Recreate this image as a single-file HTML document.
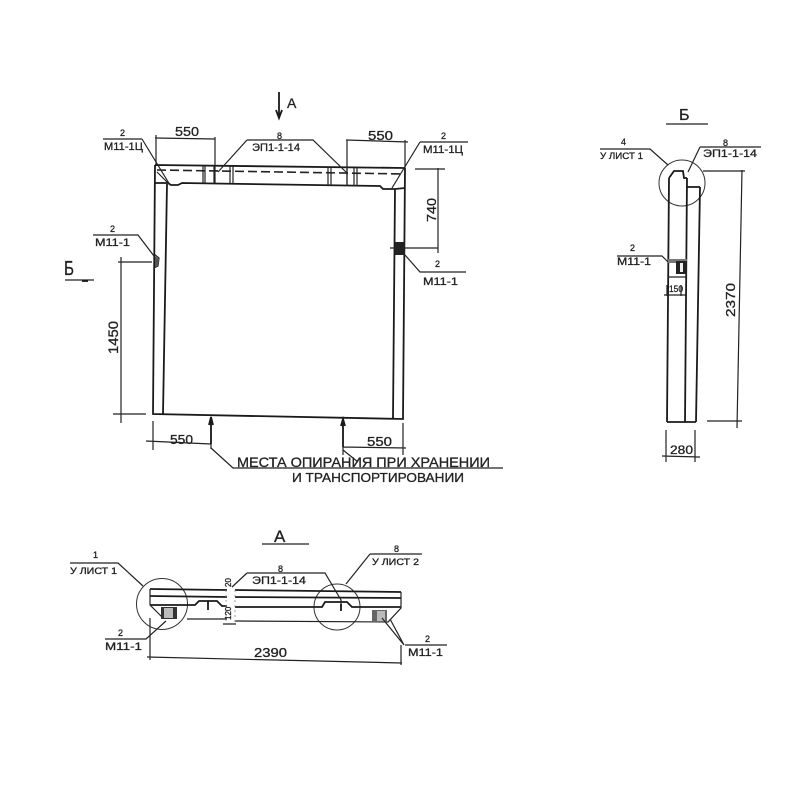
<!DOCTYPE html>
<html><head><meta charset="utf-8"><style>
html,body{margin:0;padding:0;background:#fff}
svg{display:block}
text{font-family:"Liberation Sans","DejaVu Sans",sans-serif;fill:#222;stroke:#222;stroke-width:.3}
.l{stroke:#222;stroke-width:1.2;fill:none}
.t{stroke:#1a1a1a;stroke-width:1.8;fill:none}
.h{stroke:#333;stroke-width:1;fill:none}
.d{stroke:#888;stroke-width:.8;fill:none;stroke-dasharray:2 3}
</style></head><body>
<svg width="800" height="800" viewBox="0 0 800 800" xmlns="http://www.w3.org/2000/svg">
<!-- Main elevation -->
<path class="t" d="M155 165L405 168M155 183H168L171 185L178 185L182 183L380 186L383 189L395 189L405 188M155 165L153 414L403 419L405 168M167 184L163 414M395 189L393 418"/>
<path d="M157 170L405 174" stroke="#222" stroke-width="1.6" stroke-dasharray="9 4" fill="none"/>
<path class="l" d="M203 165V183M205 165V183M214 166V183M230 166V184M233 166V184M328 167V186M331 167V186M347 168V186M354 168V186M357 168V186M157 172L170 185"/>
<path class="l" d="M156 135V165M215 137V183M347 140V186M405 140V169M155 138L215 139M346 140L408 142"/>
<path class="l" d="M142 139H103M142 139L170 185M247 140L218 172M247 140H313L347 173M420 142H468M420 142L392 188"/>
<path class="t" d="M279 92V116M276 110L279 118L282 110"/>
<path class="l" d="M438 168V253M415 169H445M390 248L438 248M93 235H138L154 256M121 257V423M118 262H152M113 414H146M153 421V450M211 417V449M146 441L211 444M343 421V455M403 423V455M343 447L406 448"/>
<path class="l" d="M154 254L159 258L158 266L154 268"/>
<path d="M155 256L159 259L158 265L155 267Z" fill="#555"/>
<rect x="395" y="242" width="10" height="13" fill="#222"/>
<path class="l" d="M405 255L420 272H466"/>
<path class="t" d="M211 417V444M343 419V447M209 425L211 417L213 425M341 426L343 419L345 426"/>
<path class="l" d="M211 448L233 468H503M343 450L358 462"/>
<path class="l" d="M65 280H94"/><path class="t" d="M82 281H88"/>
<!-- Section B -->
<path class="l" d="M666 124H708"/>
<circle cx="682" cy="183" r="23" class="h"/>
<path class="t" d="M669 178L667 422M687 178L685 422M700 187L696 422M667 422H696M669 178L674 171H683L684 178H687M687 187H700"/>
<path class="l" d="M600 149H650L668 165M700 147H761M700 147L688 172M703 171H745M742 170L737 428M707 421H742M617 256H662L668 262M666 430V462M695 430V462M662 456L700 457M667 285V296M681 285V296M664 295H686"/>
<rect x="668" y="259" width="19" height="4" fill="#777"/>
<rect x="676" y="261" width="11" height="13" fill="#222"/><rect x="680" y="263" width="3" height="9" fill="#eee"/>
<path class="l" d="M668 277H687"/>
<!-- Section A -->
<path class="l" d="M262 544H309"/>
<circle cx="162" cy="604" r="25.500" class="h"/>
<circle cx="337" cy="607" r="23" class="h"/>
<path class="t" d="M150 589L227 590M235 590L401 592M150 596L227 597M235 597L401 598M150 605L195 605L199 601H217L222 606H227M235 607H322L325 602H347L352 607H401"/>
<path class="l" d="M150 589V605L163 618M187 619H227M235 621L388 622L401 608V592M223 624H236"/>
<path class="d" d="M226 590V621M235 590V622"/>
<rect x="161" y="607" width="16" height="12" fill="#333"/><rect x="164" y="608" width="9" height="10" fill="#bbb"/>
<rect x="372" y="610" width="15" height="12" fill="#666"/><rect x="377" y="611" width="8" height="10" fill="#bbb"/>
<path class="l" d="M70 563H118L143 586M247 573H325L341 600V610M247 573L232 587M370 554H422M370 554L346 584M105 639H146L166 621M382 618L404 645L390 619M405 645H447M150 618V660M401 645V665M147 657L402 663"/>
<path class="t" d="M208 601V610M341 604V611"/>
<!-- Labels -->
<g font-size="13">
<text x="175" y="136" textLength="24" lengthAdjust="spacingAndGlyphs">550</text>
<text x="368" y="140" textLength="25" lengthAdjust="spacingAndGlyphs">550</text>
<text x="170" y="444" textLength="23" lengthAdjust="spacingAndGlyphs">550</text>
<text x="367" y="446" textLength="25" lengthAdjust="spacingAndGlyphs">550</text>
<text x="287" y="108" font-size="14">А</text>
<text x="679" y="120" font-size="16">Б</text>
<text x="64" y="275" font-size="20" textLength="10" lengthAdjust="spacingAndGlyphs">Б</text>
<text x="274" y="542" font-size="17">А</text>
<text x="670" y="454" font-size="12" textLength="23" lengthAdjust="spacingAndGlyphs">280</text>
<text x="254" y="657" font-size="13" textLength="33" lengthAdjust="spacingAndGlyphs">2390</text>
<text transform="translate(118,354) rotate(-90)" font-size="14" textLength="33" lengthAdjust="spacingAndGlyphs">1450</text>
<text transform="translate(436,222) rotate(-90)" font-size="13" textLength="24" lengthAdjust="spacingAndGlyphs">740</text>
<text transform="translate(735,317) rotate(-90)" font-size="13" textLength="34" lengthAdjust="spacingAndGlyphs">2370</text>
</g>
<g font-size="9">
<text x="120" y="136">2</text><text x="104" y="150" font-size="11" textLength="39" lengthAdjust="spacingAndGlyphs">М11-1Ц</text>
<text x="277" y="139">8</text><text x="252" y="151" font-size="11" textLength="48" lengthAdjust="spacingAndGlyphs">ЭП1-1-14</text>
<text x="441" y="139">2</text><text x="423" y="153" font-size="11" textLength="40" lengthAdjust="spacingAndGlyphs">М11-1Ц</text>
<text x="110" y="232">2</text><text x="95" y="246" font-size="11" textLength="35" lengthAdjust="spacingAndGlyphs">М11-1</text>
<text x="435" y="267">2</text><text x="423" y="285" font-size="11" textLength="35" lengthAdjust="spacingAndGlyphs">М11-1</text>
<text x="621" y="145">4</text><text x="600" y="159" font-size="9" textLength="43" lengthAdjust="spacingAndGlyphs">У ЛИСТ 1</text>
<text x="723" y="146">8</text><text x="703" y="157" font-size="11" textLength="54" lengthAdjust="spacingAndGlyphs">ЭП1-1-14</text>
<text x="630" y="251">2</text><text x="617" y="265" font-size="11" textLength="34" lengthAdjust="spacingAndGlyphs">М11-1</text>
<text x="669" y="292" textLength="14" lengthAdjust="spacingAndGlyphs">150</text>
<text x="93" y="558">1</text><text x="70" y="574" textLength="47" lengthAdjust="spacingAndGlyphs">У ЛИСТ 1</text>
<text x="278" y="572">8</text><text x="252" y="584" font-size="11" textLength="54" lengthAdjust="spacingAndGlyphs">ЭП1-1-14</text>
<text x="394" y="552">8</text><text x="372" y="565" textLength="47" lengthAdjust="spacingAndGlyphs">У ЛИСТ 2</text>
<text x="118" y="636">2</text><text x="105" y="650" font-size="11" textLength="37" lengthAdjust="spacingAndGlyphs">М11-1</text>
<text x="425" y="642">2</text><text x="408" y="656" font-size="11" textLength="35" lengthAdjust="spacingAndGlyphs">М11-1</text>
<text transform="translate(231,587) rotate(-90)" font-size="8">20</text>
<text transform="translate(231,620) rotate(-90)" font-size="8">120</text>
</g>
<text x="237" y="467" font-size="14" textLength="253" lengthAdjust="spacingAndGlyphs">МЕСТА ОПИРАНИЯ  ПРИ ХРАНЕНИИ</text>
<text x="292" y="482" font-size="13" textLength="172" lengthAdjust="spacingAndGlyphs">И ТРАНСПОРТИРОВАНИИ</text>
</svg>
</body></html>
